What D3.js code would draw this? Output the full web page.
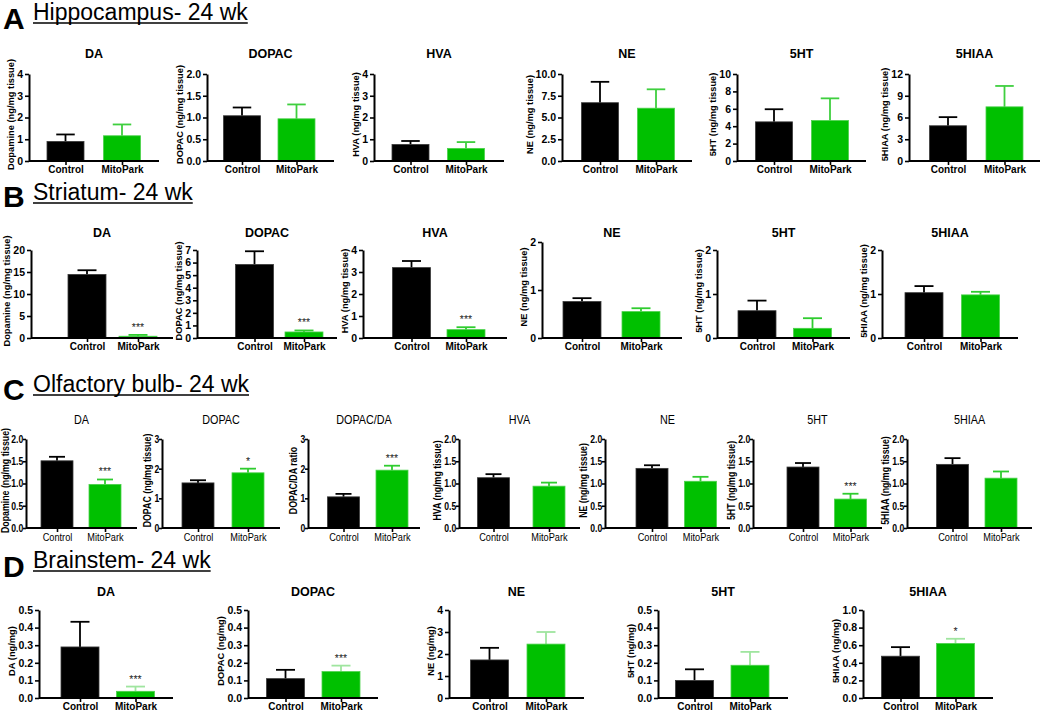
<!DOCTYPE html>
<html>
<head>
<meta charset="utf-8">
<script src="https://cdn.jsdelivr.net/npm/d3@7"></script>
<style>
  html, body { margin: 0; padding: 0; background: #fff; }
  svg { display: block; }
</style>
</head>
<body>
<script>
// ---------------- DATA ----------------
const groups = ["Control", "MitoPark"];
const sectionLetters = ["A", "B", "C", "D"];
const sectionNames = ["Hippocampus- 24 wk", "Striatum- 24 wk", "Olfactory bulb- 24 wk", "Brainstem- 24 wk"];

// A: Hippocampus
const hipTitles = ["DA", "DOPAC", "HVA", "NE", "5HT", "5HIAA"];
const hipYLabels = ["Dopamine (ng/mg tissue)", "DOPAC (ng/mg tissue)", "HVA (ng/mg tissue)", "NE (ng/mg tissue)", "5HT (ng/mg tissue)", "5HIAA (ng/mg tissue)"];
const hipTicks = [["0","1","2","3","4"], ["0.0","0.5","1.0","1.5","2.0"], ["0","1","2","3","4"], ["0.0","2.5","5.0","7.5","10.0"], ["0","2","4","6","8","10"], ["0","3","6","9","12"]];
const hipControl = [0.90, 1.04, 0.76, 6.70, 4.50, 4.86];
const hipControlSEM = [0.32, 0.19, 0.16, 2.40, 1.45, 1.19];
const hipMito = [1.16, 0.97, 0.58, 6.07, 4.65, 7.47];
const hipMitoSEM = [0.52, 0.33, 0.29, 2.17, 2.55, 2.88];
const hipStars = ["", "", "", "", "", ""];

// B: Striatum
const strTitles = ["DA", "DOPAC", "HVA", "NE", "5HT", "5HIAA"];
const strYLabels = ["Dopamine (ng/mg tissue)", "DOPAC (ng/mg tissue)", "HVA (ng/mg tissue)", "NE (ng/mg tissue)", "5HT (ng/mg tissue)", "5HIAA (ng/mg tissue)"];
const strTicks = [["0","5","10","15","20"], ["0","1","2","3","4","5","6","7"], ["0","1","2","3","4"], ["0","1","2"], ["0","1","2"], ["0","1","2"]];
const strControl = [14.45, 5.85, 3.20, 0.76, 0.62, 1.03];
const strControlSEM = [0.95, 1.05, 0.30, 0.07, 0.23, 0.15];
const strMito = [0.40, 0.48, 0.38, 0.55, 0.22, 0.98];
const strMitoSEM = [0.30, 0.12, 0.11, 0.07, 0.23, 0.07];
const strStars = ["***", "***", "***", "", "", ""];

// C: Olfactory bulb
const olfTitles = ["DA", "DOPAC", "DOPAC/DA", "HVA", "NE", "5HT", "5HIAA"];
const olfYLabels = ["Dopamine (ng/mg tissue)", "DOPAC (ng/mg tissue)", "DOPAC/DA ratio", "HVA (ng/mg tissue)", "NE (ng/mg tissue)", "5HT (ng/mg tissue)", "5HIAA (ng/mg tissue)"];
const olfTicks = [["0.0","0.5","1.0","1.5","2.0"], ["0","1","2","3"], ["0","1","2","3"], ["0.0","0.5","1.0","1.5","2.0"], ["0.0","0.5","1.0","1.5","2.0"], ["0.0","0.5","1.0","1.5","2.0"], ["0.0","0.5","1.0","1.5","2.0"]];
const olfControl = [1.51, 1.52, 1.05, 1.13, 1.34, 1.37, 1.43];
const olfControlSEM = [0.09, 0.09, 0.10, 0.08, 0.07, 0.09, 0.14];
const olfMito = [0.98, 1.86, 1.95, 0.94, 1.05, 0.65, 1.12];
const olfMitoSEM = [0.11, 0.14, 0.15, 0.08, 0.10, 0.12, 0.15];
const olfStars = ["***", "*", "***", "", "", "***", ""];

// D: Brainstem
const brsTitles = ["DA", "DOPAC", "NE", "5HT", "5HIAA"];
const brsYLabels = ["DA (ng/mg)", "DOPAC (ng/mg)", "NE (ng/mg)", "5HT (ng/mg)", "5HIAA (ng/mg)"];
const brsTicks = [["0.0","0.1","0.2","0.3","0.4","0.5"], ["0.0","0.1","0.2","0.3","0.4","0.5"], ["0","1","2","3","4"], ["0.0","0.1","0.2","0.3","0.4","0.5"], ["0.0","0.2","0.4","0.6","0.8","1.0"]];
const brsControl = [0.290, 0.110, 1.73, 0.100, 0.475];
const brsControlSEM = [0.143, 0.050, 0.55, 0.063, 0.103];
const brsMito = [0.038, 0.150, 2.45, 0.186, 0.620];
const brsMitoSEM = [0.027, 0.034, 0.55, 0.076, 0.053];
const brsStars = ["***", "***", "", "", "*"];

const sections = [
  {titles: hipTitles, ylabels: hipYLabels, ticks: hipTicks, control: hipControl, controlSEM: hipControlSEM, mito: hipMito, mitoSEM: hipMitoSEM, stars: hipStars},
  {titles: strTitles, ylabels: strYLabels, ticks: strTicks, control: strControl, controlSEM: strControlSEM, mito: strMito, mitoSEM: strMitoSEM, stars: strStars},
  {titles: olfTitles, ylabels: olfYLabels, ticks: olfTicks, control: olfControl, controlSEM: olfControlSEM, mito: olfMito, mitoSEM: olfMitoSEM, stars: olfStars},
  {titles: brsTitles, ylabels: brsYLabels, ticks: brsTicks, control: brsControl, controlSEM: brsControlSEM, mito: brsMito, mitoSEM: brsMitoSEM, stars: brsStars}
];

// ---------------- LAYOUT ----------------
const FONT = "'Liberation Sans', Arial, Helvetica, sans-serif";
const rows = [
  { letterY: 29, headY: 20, top: 74, bottom: 161, titleY: 58, barW: 37, sx: 1, tickLen: 4, tickPad: 2,
    titleSize: 12.5, titleWeight: "bold", tickSize: 10.5, xSize: 10, xWeight: "bold", ySize: 9.3, mitoErr: "#3fcf3f",
    panels: [[29,159,65.5,122],[207,334,242,296.5],[374,504,410.5,466],[562,692,600,656],[737,866,774,830],[909,1040,948,1004.5]] },
  { letterY: 207, headY: 200, top: 250, bottom: 338, titleY: 237, barW: 38, sx: 1, tickLen: 4, tickPad: 2,
    titleSize: 12.5, titleWeight: "bold", tickSize: 10.5, xSize: 10, xWeight: "bold", ySize: 9.3, mitoErr: "#2fcc2f",
    panels: [[31,173,87,138],[197,337,254.5,304],[363,507,411.5,466],[542,682,582,641,242],[717,850,757,812.5],[882,1018,924,980.5]] },
  { letterY: 400, headY: 392, top: 439, bottom: 528, titleY: 424, barW: 32, sx: 0.8, tickLen: 3, tickPad: 0.5,
    titleSize: 13.5, titleWeight: "normal", tickSize: 10.8, xSize: 11.5, xWeight: "normal", ySize: 11, mitoErr: "#2fcc2f",
    panels: [[26,137,57,105],[162,280,198,248],[308,420,343.5,392],[459,580,493.5,549],[605,730,652,700.5],[753,882,803,850.5],[907,1032,952.5,1001]] },
  { letterY: 577, headY: 568, top: 610, bottom: 698, titleY: 596, barW: 38, sx: 1, tickLen: 4, tickPad: 2,
    titleSize: 12.5, titleWeight: "bold", tickSize: 10.5, xSize: 10, xWeight: "bold", ySize: 9.3, mitoErr: "#9fe59f",
    panels: [[39,173,80,135.5],[248,378,285.5,341],[449,584,489.5,546],[658,788,694.5,750],[863,993,900.5,955.5]] }
];

const GREEN = "#00c000";

const svg = d3.select("body").append("svg").attr("width", 1050).attr("height", 711);

rows.forEach((row, r) => {
  const data = sections[r];
  const sx = row.sx;

  // Section letter & heading
  svg.append("text").attr("x", 3).attr("y", row.letterY)
    .attr("font-family", FONT).attr("font-weight", "bold").attr("font-size", 30)
    .text(sectionLetters[r]);
  const head = svg.append("text").attr("x", 33).attr("y", row.headY)
    .attr("font-family", FONT).attr("font-size", 23).text(sectionNames[r]);
  const hw = head.node().getComputedTextLength();
  svg.append("line").attr("x1", 33).attr("x2", 33 + hw)
    .attr("y1", row.headY + 3).attr("y2", row.headY + 3)
    .attr("stroke", "#000").attr("stroke-width", 1.6);

  row.panels.forEach((L, i) => {
    const [ax, ex, c1, c2, topOverride] = L;
    const top = topOverride || row.top, bottom = row.bottom, w = row.barW;
    const tickLabels = data.ticks[i];
    const tickVals = tickLabels.map(Number);
    const y = d3.scaleLinear().domain([0, d3.max(tickVals)]).range([bottom, top]);
    const x = d3.scalePoint().domain(groups).range([c1, c2]);
    const g = svg.append("g");

    const recs = groups.map((k, j) => ({
      k, v: j ? data.mito[i] : data.control[i], e: j ? data.mitoSEM[i] : data.controlSEM[i],
      fill: j ? GREEN : "#000", err: j ? row.mitoErr : "#000"
    }));

    // error bars (upper only), drawn behind the bar
    const eg = g.append("g");
    eg.selectAll("line.v").data(recs).join("line").attr("class", "v")
      .attr("x1", d => x(d.k)).attr("x2", d => x(d.k))
      .attr("y1", d => y(d.v)).attr("y2", d => y(d.v + d.e))
      .attr("stroke", d => d.err).attr("stroke-width", 1.8);
    eg.selectAll("line.c").data(recs).join("line").attr("class", "c")
      .attr("x1", d => x(d.k) - w / 4).attr("x2", d => x(d.k) + w / 4)
      .attr("y1", d => y(d.v + d.e)).attr("y2", d => y(d.v + d.e))
      .attr("stroke", d => d.err).attr("stroke-width", 1.8);

    // bars
    g.selectAll("rect").data(recs).join("rect")
      .attr("x", d => x(d.k) - w / 2).attr("width", w)
      .attr("y", d => y(d.v)).attr("height", d => y(0) - y(d.v))
      .attr("fill", d => d.fill)
      .attr("stroke", d => d.k === "Control" ? "#3a3a3a" : "#4bd14b").attr("stroke-width", 0.8);

    // y axis
    const ya = g.append("g").attr("transform", `translate(${ax},0)`)
      .call(d3.axisLeft(y).tickValues(tickVals).tickFormat((d, j) => tickLabels[j]).tickSize(row.tickLen).tickSizeOuter(0).tickPadding(row.tickPad));
    // x axis
    const xa = g.append("g").attr("transform", `translate(0,${bottom})`)
      .call(d3.axisBottom(x).tickSize(4).tickSizeOuter(0).tickPadding(1));
    xa.select(".domain").attr("d", `M${ax},0H${ex}`);

    [ya, xa].forEach(a => {
      a.select(".domain").attr("stroke", "#000").attr("stroke-width", 2);
      a.selectAll(".tick line").attr("stroke", "#000").attr("stroke-width", 1.6);
      a.selectAll("text").attr("fill", "#000").attr("font-family", FONT)
        .attr("transform", sx !== 1 ? `scale(${sx},1)` : null);
    });
    ya.selectAll("text").attr("font-size", row.tickSize).attr("font-weight", "bold");
    xa.selectAll("text").attr("font-size", row.xSize).attr("font-weight", row.xWeight);

    // y label
    const bb = ya.node().getBBox();
    const left = Math.max(ax + bb.x - 3, row.ySize * 0.85);
    g.append("text")
      .attr("transform", `translate(${left},${(top + bottom) / 2 - 3}) rotate(-90) scale(${sx},1)`)
      .attr("text-anchor", "middle").attr("font-family", FONT)
      .attr("font-weight", "bold").attr("font-size", row.ySize)
      .text(data.ylabels[i]);

    // title
    g.append("text")
      .attr("transform", `translate(${(ax + ex) / 2},${row.titleY}) scale(${sx},1)`)
      .attr("text-anchor", "middle").attr("font-family", FONT)
      .attr("font-weight", row.titleWeight).attr("font-size", row.titleSize)
      .text(data.titles[i]);

    // significance stars
    if (data.stars[i]) {
      g.append("text").attr("x", x("MitoPark"))
        .attr("y", y(data.mito[i] + data.mitoSEM[i]) - 4)
        .attr("text-anchor", "middle").attr("font-family", FONT)
        .attr("font-size", 10.5).attr("fill", "#222")
        .text(data.stars[i]);
    }
  });
});
</script>
</body>
</html>
